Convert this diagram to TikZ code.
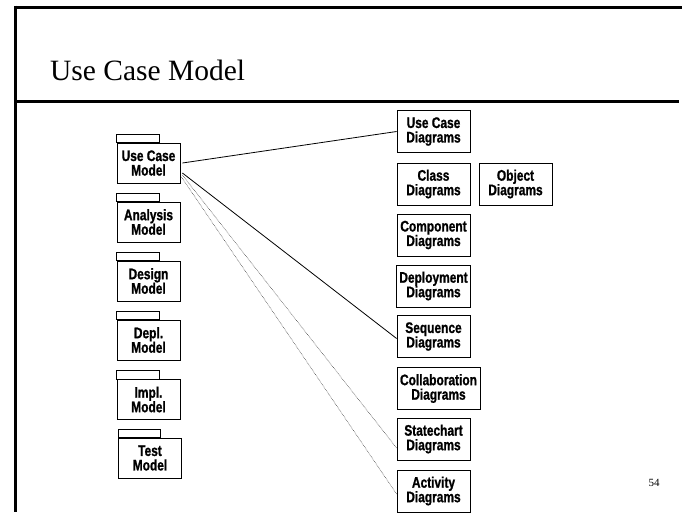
\documentclass[tikz,border=0pt]{standalone}
\usepackage{fontspec}
\setmainfont{Liberation Serif}
\newfontfamily\lblfont[FakeStretch=0.78,FakeBold=1]{Liberation Sans Bold}
\usetikzlibrary{calc}
\begin{document}
\begin{tikzpicture}[x=1pt,y=-1pt,
  frameline/.style={line width=3pt,line cap=butt},
  lbl/.style={font=\lblfont\fontsize{15.3}{14.5}\selectfont,align=center,inner xsep=3pt,inner ysep=0pt},
  pkg/.style={lbl,draw,line width=0.8pt,minimum width=63,minimum height=40},
  diag/.style={lbl,draw,line width=0.8pt,minimum width=73,minimum height=42},
  link/.style={line width=0.8pt},
  dotlink/.style={line width=0.5pt,dash pattern=on 0.6pt off 0.9pt,black!80}]
\useasboundingbox (0,0) rectangle (682,512);
\fill[white] (0,0) rectangle (682,512);

% slide frame
\draw[frameline] (14,7) -- (682,7);
\draw[frameline] (15.5,5.5) -- (15.5,512);
\draw[line width=3.5pt] (15.5,101.5) -- (679,101.5);
\node[anchor=base west,inner sep=0pt,font=\fontsize{29.5}{30}\selectfont] (title) at (50,80) {Use Case Model};
\node[anchor=base,inner sep=0pt,font=\fontsize{11}{12}\selectfont] (pagenum) at (654,486) {54};

% model packages
\node[pkg] (ucm) at (148.5,163) {Use Case\\Model};
\node[pkg] (anm) at (148.5,222) {Analysis\\Model};
\node[pkg] (dsm) at (148.5,281) {Design\\Model};
\node[pkg] (dpm) at (148.5,340) {Depl.\\Model};
\node[pkg] (imm) at (148.5,399.5) {Impl.\\Model};
\node[pkg] (tsm) at (150,458) {Test\\Model};
\foreach \p in {ucm,anm,dsm,dpm,imm,tsm}
  \draw[line width=0.8pt] (\p.north west) rectangle ++(42.5,-8.5);

% diagram kinds
\node[diag] (ucd) at (433.5,131.5) {Use Case\\Diagrams};
\node[diag] (cld) at (433.5,184) {Class\\Diagrams};
\node[diag] (obd) at (515.5,184) {Object\\Diagrams};
\node[diag] (cpd) at (433.5,235) {Component\\Diagrams};
\node[diag] (dpd) at (433.5,286) {Deployment\\Diagrams};
\node[diag] (sqd) at (433.5,336.5) {Sequence\\Diagrams};
\node[diag] (cbd) at (438.5,388.5) {Collaboration\\Diagrams};
\node[diag] (scd) at (433.5,439) {Statechart\\Diagrams};
\node[diag] (acd) at (433.5,491) {Activity\\Diagrams};

% connectors
\draw[link] ([shift={(2,0)}]ucm.east) -- (ucd.west);
\draw[link] ([shift={(2,10)}]ucm.east) -- ([yshift=-2]sqd.west);
\draw[dotlink] ([shift={(2,12)}]ucm.east) -- ([yshift=-9]scd.west);
\draw[dotlink] ([shift={(1,14)}]ucm.east) -- ([yshift=-3]acd.west);
\end{tikzpicture}
\end{document}
